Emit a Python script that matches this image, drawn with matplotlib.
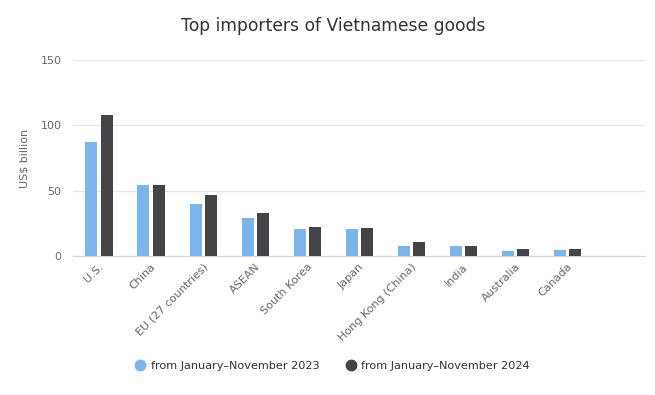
import matplotlib.pyplot as plt
import numpy as np

categories = ['U.S.', 'China', 'EU (27 countries)', 'ASEAN', 'South Korea', 'Japan',
              'Hong Kong (China)', 'India', 'Australia', 'Canada']
values_2023 = [87, 54.5, 39.5, 29.3, 20.9, 20.9, 7.6, 7.6, 3.8, 4.6]
values_2024 = [108, 54.5, 47, 33, 22.4, 21.6, 10.5, 7.7, 5.4, 5.4]
series_names = ['from January–November 2023', 'from January–November 2024']
colors = ['#7cb5ec', '#434348']

fig = plt.figure(figsize=(6.55, 3.95), dpi=100)
ax = fig.add_axes([0.111, 0.352, 0.874, 0.496])

x = np.arange(len(categories))
w = 0.23
ax.bar(x - 0.14, values_2023, w, color=colors[0], zorder=3)
ax.bar(x + 0.16, values_2024, w, color=colors[1], zorder=3)

ax.set_xlim(-0.5, len(categories) + 0.5)
ax.set_ylim(0, 150)
ax.set_yticks([0, 50, 100, 150])
ax.grid(axis='y', color='#e6e6e6', linewidth=1, zorder=0)
for s in ['top', 'right', 'left']:
    ax.spines[s].set_visible(False)
ax.spines['bottom'].set_color('#ccd6eb')
ax.tick_params(axis='y', length=0, labelsize=8, labelcolor='#666666', pad=8)
ax.tick_params(axis='x', length=0, labelsize=8, labelcolor='#666666', pad=4)
ax.set_xticks(x)
ax.set_xticklabels(categories, rotation=45, ha='right', rotation_mode='anchor')
ax.set_ylabel('US$ billion', fontsize=8, color='#666666', labelpad=8)

fig.text(0.508, 0.935, 'Top importers of Vietnamese goods', ha='center', va='center',
         fontsize=12.3, color='#333333')

# legend with round markers like the original
handles = [plt.Line2D([], [], marker='o', linestyle='', markersize=7.5, color=c) for c in colors]
fig.legend(handles, series_names, loc='center', bbox_to_anchor=(0.508, 0.073), ncol=2,
           frameon=False, fontsize=8.1, handlelength=0.8, handletextpad=0.5,
           columnspacing=2.4, labelcolor='#333333')

fig.savefig('out.png', dpi=100)
